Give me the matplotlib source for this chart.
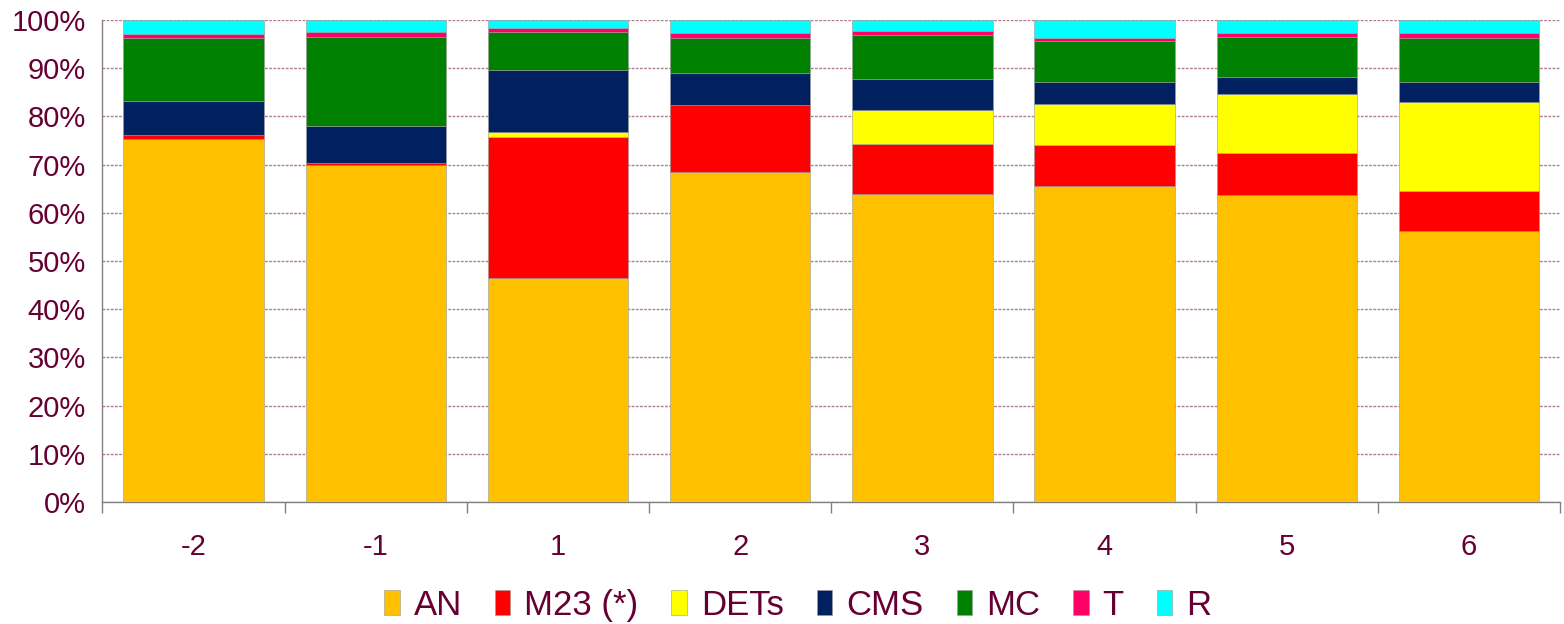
import matplotlib.pyplot as plt
import numpy as np
from matplotlib.ticker import PercentFormatter

plt.rcParams["font.family"] = ["Liberation Sans", "DejaVu Sans"]

categories = ["-2", "-1", "1", "2", "3", "4", "5", "6"]
series_names = ["AN", "M23 (*)", "DETs", "CMS", "MC", "T", "R"]
an = [75.3, 70.0, 46.5, 68.5, 63.9, 65.6, 63.7, 56.2]
m23 = [0.8, 0.3, 29.2, 13.8, 10.4, 8.5, 8.6, 8.3]
dets = [0.0, 0.0, 1.0, 0.0, 7.0, 8.5, 12.3, 18.5]
cms = [7.0, 7.6, 12.9, 6.8, 6.4, 4.5, 3.6, 4.1]
mc = [13.2, 18.6, 8.0, 7.2, 9.1, 8.6, 8.3, 9.2]
t = [0.8, 1.0, 0.7, 0.9, 1.0, 0.6, 0.7, 1.1]
r = [2.9, 2.5, 1.7, 2.8, 2.2, 3.7, 2.8, 2.6]
colors = ["#FFC000", "#FF0000", "#FFFF00", "#002060", "#008000", "#FF0066", "#00FFFF"]

text_color = "#660033"

fig = plt.figure(figsize=(15.64, 6.24), dpi=100)
ax = fig.add_axes([0.0655, 0.1955, 0.932, 0.7725])

x = np.arange(len(categories))
bottom = np.zeros(len(categories))
for name, vals, col in zip(series_names, [an, m23, dets, cms, mc, t, r], colors):
    vals = np.array(vals)
    ax.bar(x, vals, bottom=bottom, width=0.77, color=col, label=name,
           edgecolor="#9a9a9a", linewidth=0.4, zorder=3)
    bottom += vals

ax.set_xlim(-0.5, len(categories) - 0.5)
ax.set_ylim(0, 100)
ax.set_yticks(np.arange(0, 101, 10))
ax.yaxis.set_major_formatter(PercentFormatter(decimals=0))
ax.set_xticks(x)
ax.set_xticklabels(categories)
ax.set_xticks(np.arange(-0.5, len(categories)), minor=True)
ax.tick_params(axis="x", which="major", length=0, pad=22, labelsize=21, labelcolor=text_color)
ax.tick_params(axis="x", which="minor", length=8, color="#808080", width=1)
ax.tick_params(axis="y", length=0, pad=12, labelsize=21, labelcolor=text_color)

ax.yaxis.grid(True, linestyle=(0, (2, 1)), color="#b08090", linewidth=1, zorder=0)
for s in ["top", "right"]:
    ax.spines[s].set_visible(False)
for s in ["left", "bottom"]:
    ax.spines[s].set_color("#808080")
    ax.spines[s].set_linewidth(1)

fig.legend(*ax.get_legend_handles_labels(), loc="center", bbox_to_anchor=(0.51, 0.03),
           ncol=7, frameon=False, fontsize=25, labelcolor=text_color,
           handlelength=0.45, handleheight=0.75, handletextpad=0.4, columnspacing=0.95)

fig.savefig("out.png", dpi=100)
